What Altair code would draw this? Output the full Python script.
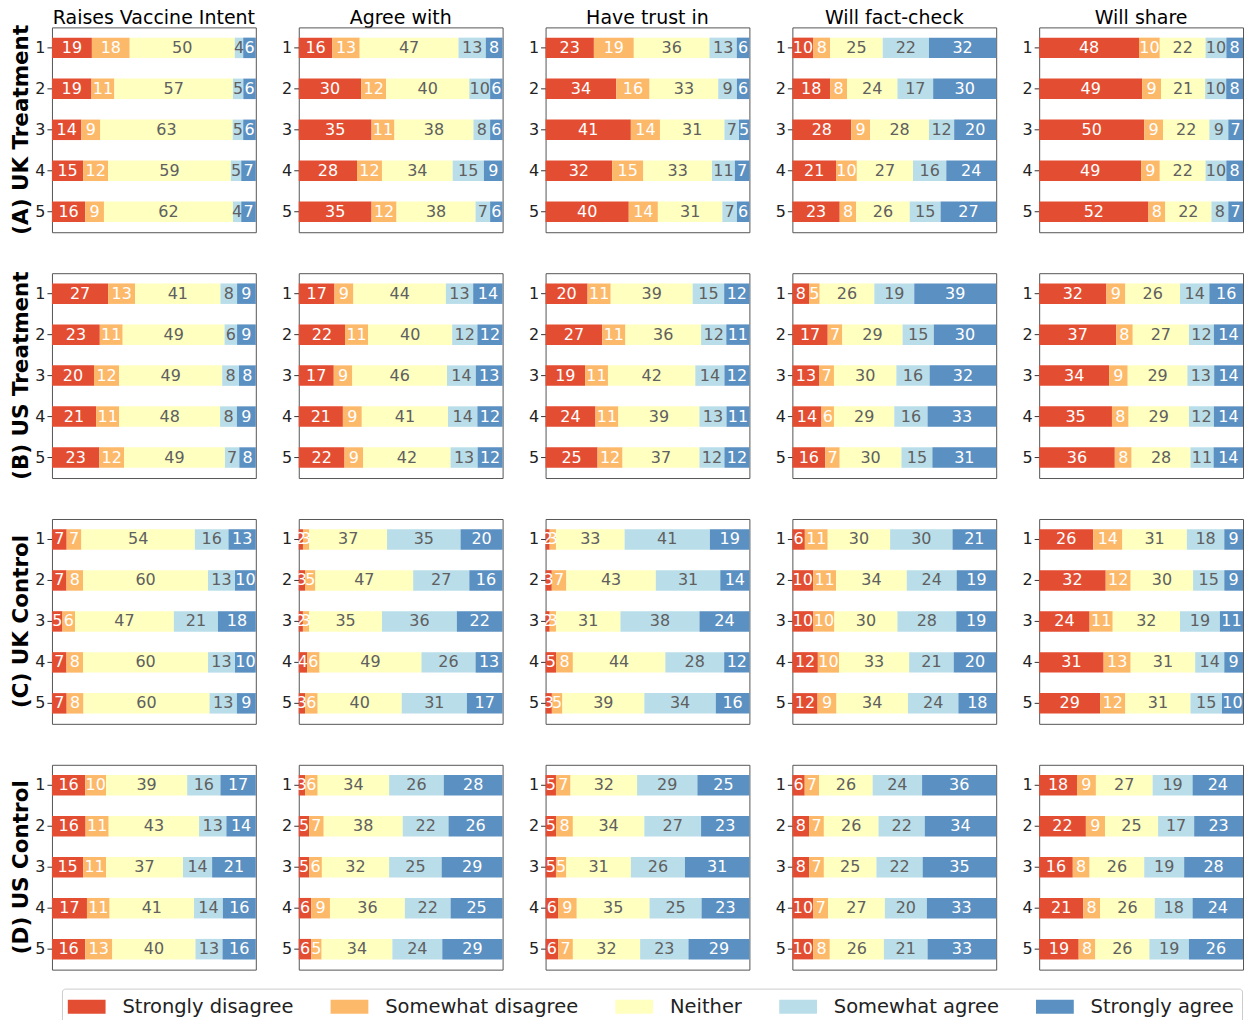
import altair as alt
import pandas as pd

groups = ["(A) UK Treatment", "(B) US Treatment", "(C) UK Control", "(D) US Control"]
questions = ["Raises Vaccine Intent", "Agree with", "Have trust in", "Will fact-check", "Will share"]
categories = ["Strongly disagree", "Somewhat disagree", "Neither", "Somewhat agree", "Strongly agree"]
colors = ["#e34e33", "#fdb96a", "#ffffbf", "#b9deea", "#5b90c2"]
items = [1, 2, 3, 4, 5]

uk_treatment = {
    "Raises Vaccine Intent": [[19, 18, 50, 4, 6], [19, 11, 57, 5, 6], [14, 9, 63, 5, 6], [15, 12, 59, 5, 7], [16, 9, 62, 4, 7]],
    "Agree with": [[16, 13, 47, 13, 8], [30, 12, 40, 10, 6], [35, 11, 38, 8, 6], [28, 12, 34, 15, 9], [35, 12, 38, 7, 6]],
    "Have trust in": [[23, 19, 36, 13, 6], [34, 16, 33, 9, 6], [41, 14, 31, 7, 5], [32, 15, 33, 11, 7], [40, 14, 31, 7, 6]],
    "Will fact-check": [[10, 8, 25, 22, 32], [18, 8, 24, 17, 30], [28, 9, 28, 12, 20], [21, 10, 27, 16, 24], [23, 8, 26, 15, 27]],
    "Will share": [[48, 10, 22, 10, 8], [49, 9, 21, 10, 8], [50, 9, 22, 9, 7], [49, 9, 22, 10, 8], [52, 8, 22, 8, 7]],
}
us_treatment = {
    "Raises Vaccine Intent": [[27, 13, 41, 8, 9], [23, 11, 49, 6, 9], [20, 12, 49, 8, 8], [21, 11, 48, 8, 9], [23, 12, 49, 7, 8]],
    "Agree with": [[17, 9, 44, 13, 14], [22, 11, 40, 12, 12], [17, 9, 46, 14, 13], [21, 9, 41, 14, 12], [22, 9, 42, 13, 12]],
    "Have trust in": [[20, 11, 39, 15, 12], [27, 11, 36, 12, 11], [19, 11, 42, 14, 12], [24, 11, 39, 13, 11], [25, 12, 37, 12, 12]],
    "Will fact-check": [[8, 5, 26, 19, 39], [17, 7, 29, 15, 30], [13, 7, 30, 16, 32], [14, 6, 29, 16, 33], [16, 7, 30, 15, 31]],
    "Will share": [[32, 9, 26, 14, 16], [37, 8, 27, 12, 14], [34, 9, 29, 13, 14], [35, 8, 29, 12, 14], [36, 8, 28, 11, 14]],
}
uk_control = {
    "Raises Vaccine Intent": [[7, 7, 54, 16, 13], [7, 8, 60, 13, 10], [5, 6, 47, 21, 18], [7, 8, 60, 13, 10], [7, 8, 60, 13, 9]],
    "Agree with": [[2, 3, 37, 35, 20], [3, 5, 47, 27, 16], [2, 3, 35, 36, 22], [4, 6, 49, 26, 13], [3, 6, 40, 31, 17]],
    "Have trust in": [[2, 3, 33, 41, 19], [3, 7, 43, 31, 14], [2, 3, 31, 38, 24], [5, 8, 44, 28, 12], [3, 5, 39, 34, 16]],
    "Will fact-check": [[6, 11, 30, 30, 21], [10, 11, 34, 24, 19], [10, 10, 30, 28, 19], [12, 10, 33, 21, 20], [12, 9, 34, 24, 18]],
    "Will share": [[26, 14, 31, 18, 9], [32, 12, 30, 15, 9], [24, 11, 32, 19, 11], [31, 13, 31, 14, 9], [29, 12, 31, 15, 10]],
}
us_control = {
    "Raises Vaccine Intent": [[16, 10, 39, 16, 17], [16, 11, 43, 13, 14], [15, 11, 37, 14, 21], [17, 11, 41, 14, 16], [16, 13, 40, 13, 16]],
    "Agree with": [[3, 6, 34, 26, 28], [5, 7, 38, 22, 26], [5, 6, 32, 25, 29], [6, 9, 36, 22, 25], [6, 5, 34, 24, 29]],
    "Have trust in": [[5, 7, 32, 29, 25], [5, 8, 34, 27, 23], [5, 5, 31, 26, 31], [6, 9, 35, 25, 23], [6, 7, 32, 23, 29]],
    "Will fact-check": [[6, 7, 26, 24, 36], [8, 7, 26, 22, 34], [8, 7, 25, 22, 35], [10, 7, 27, 20, 33], [10, 8, 26, 21, 33]],
    "Will share": [[18, 9, 27, 19, 24], [22, 9, 25, 17, 23], [16, 8, 26, 19, 28], [21, 8, 26, 18, 24], [19, 8, 26, 19, 26]],
}

records = []
for g, block in zip(groups, [uk_treatment, us_treatment, uk_control, us_control]):
    for q in questions:
        for it, vals in zip(items, block[q]):
            for k, (c, v) in enumerate(zip(categories, vals)):
                records.append({"group": g, "question": q, "item": it,
                                "category": c, "order": k, "value": v})
df = pd.DataFrame(records)

FONT = "DejaVu Sans"

base = (
    alt.Chart()
    .transform_joinaggregate(total="sum(value)", groupby=["group", "question", "item"])
    .transform_window(cum="sum(value)", sort=[alt.SortField("order", order="ascending")],
                      groupby=["group", "question", "item"], frame=[None, 0])
    .transform_calculate(
        x0="(datum.cum - datum.value) / datum.total * 100",
        x1="datum.cum / datum.total * 100",
        xm="(datum.cum - datum.value / 2) / datum.total * 100",
    )
)

yenc = alt.Y("item:O", scale=alt.Scale(paddingInner=0.5, paddingOuter=0.25),
             axis=alt.Axis(title=None, labelAngle=0, labelFontSize=16, labelFont=FONT,
                           labelColor="#222222", tickSize=5, tickColor="#333333",
                           domain=False, labelPadding=2))

bars = base.mark_bar().encode(
    x=alt.X("x0:Q", scale=alt.Scale(domain=[0, 100], nice=False), axis=None),
    x2="x1:Q",
    y=yenc,
    color=alt.Color("category:N", scale=alt.Scale(domain=categories, range=colors),
                    sort=categories,
                    legend=alt.Legend(title=None, orient="none", direction="horizontal",
                                      legendX=10, legendY=962,
                                      symbolType="M-2.7,-1H2.7V1H-2.7Z", symbolSize=196,
                                      symbolOffset=7,
                                      symbolStrokeWidth=0, labelFontSize=19.5, labelFont=FONT,
                                      labelColor="#222222", labelOffset=26, columnPadding=36,
                                      labelLimit=0,
                                      padding=8, strokeColor="#cccccc", cornerRadius=3,
                                      fillColor="white")),
)

text = base.mark_text(fontSize=16, font=FONT).encode(
    x=alt.X("xm:Q", scale=alt.Scale(domain=[0, 100], nice=False), axis=None),
    y=yenc,
    text=alt.Text("value:Q"),
    color=alt.condition("datum.category == 'Neither' || datum.category == 'Somewhat agree'",
                        alt.value("#606060"), alt.value("white")),
)

chart = (
    alt.layer(bars, text, data=df)
    .properties(width=204, height=205)
    .facet(
        row=alt.Row("group:N", sort=groups, title=None,
                    header=alt.Header(labelAngle=-90, labelOrient="left", labelFontSize=21.5,
                                      labelFontWeight="bold", labelFont=FONT, labelColor="black",
                                      labelPadding=-10)),
        column=alt.Column("question:N", sort=questions, title=None,
                          header=alt.Header(labelFontSize=19, labelFont=FONT, labelColor="black",
                                            labelPadding=-2)),
        spacing={"row": 39, "column": 24},
    )
    .resolve_axis(y="independent")
    .configure_view(stroke="#555555", strokeWidth=1)
    .properties(padding={"left": 3, "top": 1, "right": 0, "bottom": 0})
)

chart.save("out.html", embed_options={"renderer": "svg", "actions": False})
